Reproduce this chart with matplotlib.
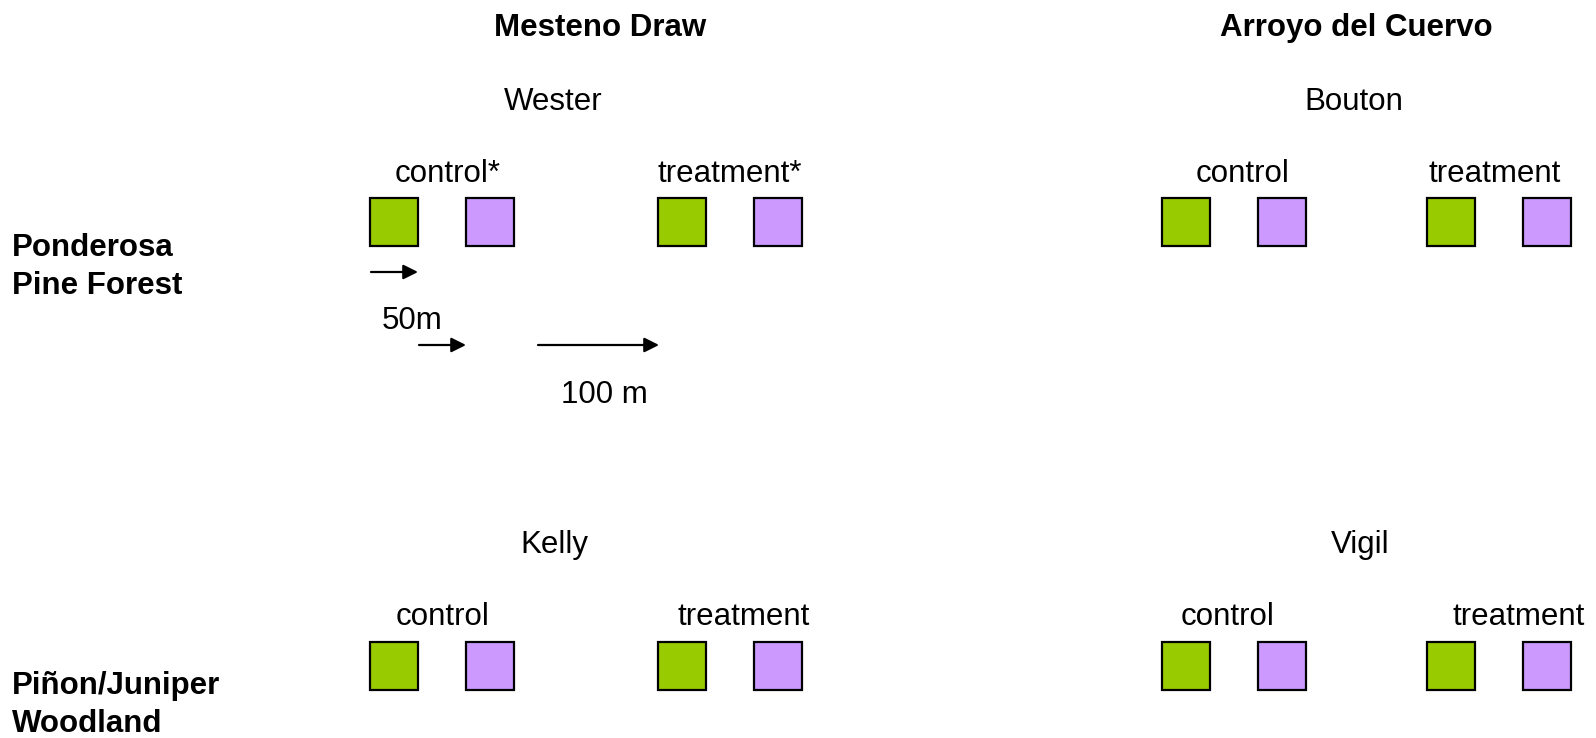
import matplotlib.pyplot as plt
from matplotlib.patches import Rectangle

plt.rcParams['font.family'] = ['Liberation Sans', 'DejaVu Sans']

# ------------------------------
# data
# ------------------------------
watersheds = ["Mesteno Draw", "Arroyo del Cuervo"]
vegetation = ["Ponderosa\nPine Forest", "Piñon/Juniper\nWoodland"]
sites = [["Wester", "Bouton"], ["Kelly", "Vigil"]]
plot_labels = [[["control*", "treatment*"], ["control", "treatment"]],
               [["control", "treatment"], ["control", "treatment"]]]
scale_labels = ["50m", "100 m"]

GREEN = "#99CC00"
PURPLE = "#CC99FF"
FS = 22.5

# layout (pixels)
col_x = [370, 1162]           # left edge of the first square in each column
row_y = [198, 642]            # top of squares in each row
sq = 48
pair_gap = 96                 # green -> purple
group_gap = [288, 265]        # control -> treatment
site_x = [[553, 1354], [554, 1360]]
site_y = [102, 545]
label_y = [174, 617]
label_dx = [[[78, 72], [81, 68]], [[73, 86], [66, 92]]]

fig = plt.figure(figsize=(15.96, 7.38), dpi=100)
ax = fig.add_axes([0, 0, 1, 1])
ax.set_xlim(0, 1596)
ax.set_ylim(738, 0)
ax.axis("off")

# column headers
for x, name in zip([600, 1356], watersheds):
    ax.text(x, 28, name, ha="center", va="center", fontsize=FS, fontweight="bold")

# row labels
for y, name in zip([267, 705], vegetation):
    ax.text(12, y, name, ha="left", va="center", fontsize=FS, fontweight="bold",
            linespacing=1.32)

for r in range(2):
    for c in range(2):
        x0 = col_x[c]
        ax.text(site_x[r][c], site_y[r], sites[r][c], ha="center", va="center", fontsize=FS)
        for g in range(2):
            gx = x0 + g * group_gap[c]
            ax.text(gx + label_dx[r][c][g], label_y[r], plot_labels[r][c][g],
                    ha="center", va="center", fontsize=FS)
            for p, col in enumerate([GREEN, PURPLE]):
                ax.add_patch(Rectangle((gx + p * pair_gap, row_y[r]), sq, sq,
                                       facecolor=col, edgecolor="black", lw=1.6))

# scale arrows
arrows = [((371, 272), (418, 272)), ((419, 345), (466, 345)), ((538, 345), (659, 345))]
for (x1, y1), (x2, y2) in arrows:
    ax.annotate("", xy=(x2, y2), xytext=(x1, y1),
                arrowprops=dict(arrowstyle="-|>", color="black", lw=1.6,
                                mutation_scale=22, shrinkA=0, shrinkB=0))

ax.text(412, 321, scale_labels[0], ha="center", va="center", fontsize=FS)
ax.text(604, 395, scale_labels[1], ha="center", va="center", fontsize=FS)

fig.savefig("out.png", dpi=100)
